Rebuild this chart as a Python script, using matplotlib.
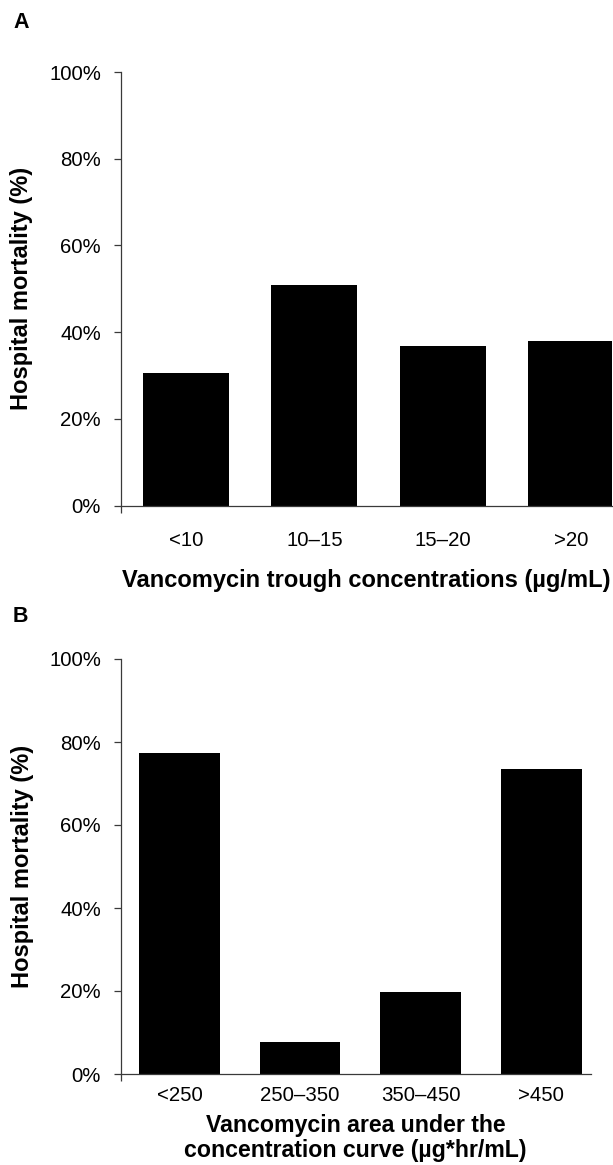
import matplotlib
matplotlib.use("Agg")
import matplotlib.pyplot as plt
from matplotlib.ticker import PercentFormatter, FixedLocator

plt.rcParams['font.family'] = ['Liberation Sans', 'DejaVu Sans']

# ---- data ----
cats_a = ["<10", "10\u201315", "15\u201320", ">20"]
vals_a = [30.5, 50.8, 36.8, 38.0]
cats_b = ["<250", "250\u2013350", "350\u2013450", ">450"]
vals_b = [77.3, 7.6, 19.8, 73.5]
yticks = [0, 20, 40, 60, 80, 100]
xlabel_a = "Vancomycin trough concentrations (\u00b5g/mL)"
xlabel_b = "Vancomycin area under the\nconcentration curve (\u00b5g*hr/mL)"
ylabel = "Hospital mortality (%)"

W, H = 613, 1165
fig = plt.figure(figsize=(W / 100, H / 100), dpi=100)

spine_col = "#3a3a3a"


def panel(rect, cats, vals, xlim, xpad, xlabel, xlab_y, ylab_x, xlab_size):
    ax = fig.add_axes(rect)
    x = list(range(len(cats)))
    ax.bar(x, vals, width=0.67, color="black", edgecolor="none", zorder=2)
    ax.set_xlim(*xlim)
    ax.set_ylim(0, 100)
    ax.set_yticks(yticks)
    ax.yaxis.set_major_formatter(PercentFormatter(decimals=0))
    ax.set_xticks(x)
    ax.set_xticklabels(cats)
    ax.xaxis.set_minor_locator(FixedLocator([xlim[0]]))
    ax.tick_params(axis="x", which="major", length=0, pad=xpad, labelsize=14.7)
    ax.tick_params(axis="x", which="minor", length=4.8, width=0.9,
                   direction="out", color=spine_col)
    ax.tick_params(axis="y", length=4.8, width=0.9, direction="out",
                   pad=9.4, labelsize=14.7, color=spine_col)
    for s in ("top", "right"):
        ax.spines[s].set_visible(False)
    for s in ("left", "bottom"):
        ax.spines[s].set_color(spine_col)
        ax.spines[s].set_linewidth(0.9)
    ax.set_xlabel(xlabel, fontsize=xlab_size, fontweight="bold", linespacing=1.15)
    ax.xaxis.set_label_coords(0.5, xlab_y)
    ax.xaxis.label.set_va("center")
    ax.set_ylabel(ylabel, fontsize=17, fontweight="bold")
    ax.yaxis.set_label_coords(ylab_x, 0.5)
    ax.yaxis.label.set_va("center")
    return ax


left = 120.7 / W
# Panel A: 0% at y=505.7 px, 100% at y=72 px
a_h = 505.7 - 72
ax_a = panel([left, 1 - 505.7 / H, (612 - 120.7) / W, a_h / H],
             cats_a, vals_a, (-0.51, 3.32), 18, xlabel_a,
             -(580 - 505.7) / a_h, -(120.7 - 22) / (612 - 120.7), 17)
# Panel B: 0% at y=1074 px, 100% at y=659 px
b_h = 1074 - 659
ax_b = panel([left, 1 - 1074 / H, (590.7 - 120.7) / W, b_h / H],
             cats_b, vals_b, (-0.487, 3.41), 8.3, xlabel_b,
             -(1138 - 1074) / b_h, -(120.7 - 22) / (590.7 - 120.7), 16.7)

fig.text(13 / W, 1 - 22 / H, "A", fontsize=15.5, fontweight="bold",
         ha="left", va="center")
fig.text(13 / W, 1 - 617 / H, "B", fontsize=15.5, fontweight="bold",
         ha="left", va="center")

fig.savefig("out.png", dpi=100, facecolor="white")
